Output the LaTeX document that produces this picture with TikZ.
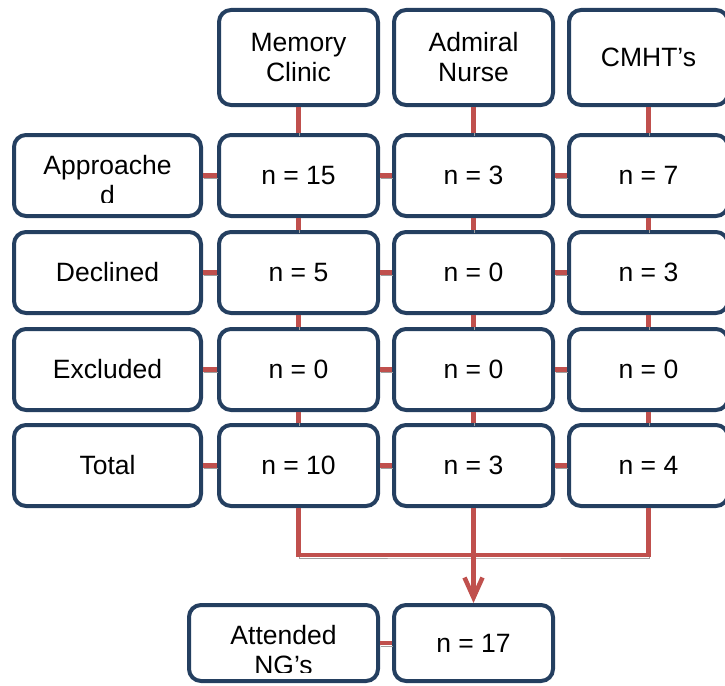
\documentclass[tikz,border=0pt]{standalone}
\usepackage{fontspec}
\setmainfont{Liberation Sans}
\usetikzlibrary{arrows.meta}

\definecolor{boxblue}{HTML}{243F60}
\definecolor{linkred}{HTML}{C0504D}

\begin{document}
\begin{tikzpicture}[x=1pt, y=-1pt,
    box/.style={draw=boxblue, line width=4pt, rounded corners=12pt, fill=white,
        minimum width=159pt, minimum height=81pt, inner sep=0pt, align=center,
        font=\fontsize{26.5}{30}\selectfont},
    head/.style={box, minimum height=95pt},
    side/.style={box, minimum width=187pt},
    txt/.style={inner sep=0pt, align=center, font=\fontsize{26.5}{30}\selectfont},
    link/.style={draw=linkred, line width=4.5pt,
        preaction={draw=gray!75, transform canvas={xshift=0.5pt, yshift=-3pt}}}]
    \useasboundingbox (0,0) rectangle (725,685);

    % Draw nodes
    \node[head] (mc) at (298.5,57.5) {Memory\\Clinic};
    \node[head] (an) at (473.5,57.5) {Admiral\\Nurse};
    \node[head] (cm) at (648.5,57.5) {CMHT’s};

    \node[side] (ap) at (107.5,175.5) {};
    \node[box] (ap1) at (298.5,175.5) {n = 15};
    \node[box] (ap2) at (473.5,175.5) {n = 3};
    \node[box] (ap3) at (648.5,175.5) {n = 7};

    \node[side] (de) at (107.5,272.5) {Declined};
    \node[box] (de1) at (298.5,272.5) {n = 5};
    \node[box] (de2) at (473.5,272.5) {n = 0};
    \node[box] (de3) at (648.5,272.5) {n = 3};

    \node[side] (ex) at (107.5,369.5) {Excluded};
    \node[box] (ex1) at (298.5,369.5) {n = 0};
    \node[box] (ex2) at (473.5,369.5) {n = 0};
    \node[box] (ex3) at (648.5,369.5) {n = 0};

    \node[side] (to) at (107.5,465.5) {Total};
    \node[box] (to1) at (298.5,465.5) {n = 10};
    \node[box] (to2) at (473.5,465.5) {n = 3};
    \node[box] (to3) at (648.5,465.5) {n = 4};

    \node[box, minimum width=189pt, minimum height=76pt] (ng) at (283.5,643) {};
    \node[box, minimum height=76pt] (ng1) at (473.5,643) {n = 17};

    % Labels cut off by their boxes
    \begin{scope}
        \clip (14,135) rectangle (201,202);
        \node[txt] (apt) at (107.5,180.5) {Approache\\d};
    \end{scope}
    \begin{scope}
        \clip (189,605) rectangle (378,672);
        \node[txt] (ngt) at (283.5,650.5) {Attended\\NG’s};
    \end{scope}

    % Draw connections
    \draw[link] (mc) -- (ap1);
    \draw[link] (an) -- (ap2);
    \draw[link] (cm) -- (ap3);
    \draw[link] (ap1) -- (de1);
    \draw[link] (ap2) -- (de2);
    \draw[link] (ap3) -- (de3);
    \draw[link] (de1) -- (ex1);
    \draw[link] (de2) -- (ex2);
    \draw[link] (de3) -- (ex3);
    \draw[link] (ex1) -- (to1);
    \draw[link] (ex2) -- (to2);
    \draw[link] (ex3) -- (to3);

    \draw[link] (ap) -- (ap1);
    \draw[link] (ap1) -- (ap2);
    \draw[link] (ap2) -- (ap3);
    \draw[link] (de) -- (de1);
    \draw[link] (de1) -- (de2);
    \draw[link] (de2) -- (de3);
    \draw[link] (ex) -- (ex1);
    \draw[link] (ex1) -- (ex2);
    \draw[link] (ex2) -- (ex3);
    \draw[link] (to) -- (to1);
    \draw[link] (to1) -- (to2);
    \draw[link] (to2) -- (to3);

    \coordinate (bus) at (473.5,555);
    \draw[link] (to1.south) |- (bus) -| (to3.south);
    \draw[link, -{Straight Barb[length=20pt, width=18pt]}] (to2.south) -- (ng1.north);
    \draw[link] (ng) -- (ng1);
\end{tikzpicture}
\end{document}
